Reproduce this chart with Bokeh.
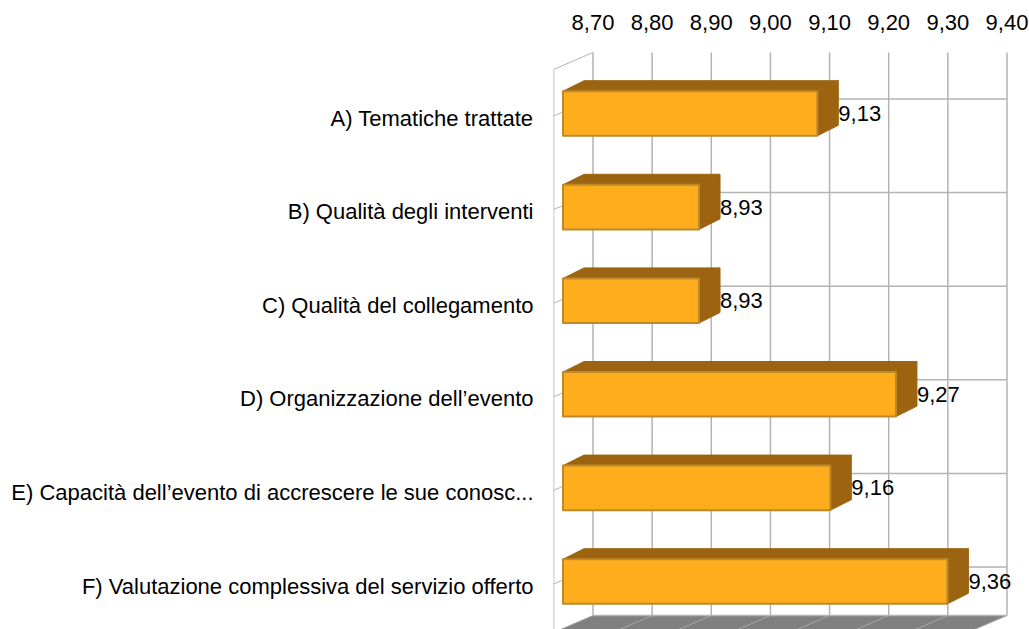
from bokeh.embed import file_html
from bokeh.resources import INLINE
from bokeh.plotting import figure
from bokeh.models import Range1d, FixedTicker, LinearAxis
from bokeh.core.properties import value

categories = ["A) Tematiche trattate", "B) Qualità degli interventi", "C) Qualità del collegamento",
              "D) Organizzazione dell’evento", "E) Capacità dell’evento di accrescere le sue conosc...",
              "F) Valutazione complessiva del servizio offerto"]
value_labels = ["9,13", "8,93", "8,93", "9,27", "9,16", "9,36"]
bar_values = [9.13, 8.93, 8.93, 9.263, 9.152, 9.35]
ticks = [8.7, 8.8, 8.9, 9.0, 9.1, 9.2, 9.3, 9.4]
tick_labels = ["8,70", "8,80", "8,90", "9,00", "9,10", "9,20", "9,30", "9,40"]

W, H = 1029, 629
ox, oy = 0, 0
left_px, top_px = 553, 40     # frame corner
xs = 591.4                    # px per value unit
ys = 93.6                     # px per category
x0 = 8.7 - (592.5 - left_px) / xs
x1 = 8.7 + (ox + W - 592.5) / xs
y0 = (top_px - 113) / ys
y1 = (oy + H - 113) / ys
dx = lambda px: px / xs
dy = lambda px: px / ys

p = figure(width=W, height=H, output_backend="svg", toolbar_location=None,
           x_range=Range1d(x0, x1), y_range=Range1d(y1, y0),
           x_axis_location=None, y_axis_location=None,
           min_border_left=left_px - ox, min_border_top=top_px - oy,
           min_border_right=0, min_border_bottom=0, outline_line_color=None,
           background_fill_color="white", border_fill_color="white")
p.grid.visible = False

FONT = "Liberation Sans"
SIZE = "22px"

top_axis = LinearAxis(ticker=FixedTicker(ticks=ticks),
                      major_label_overrides=dict(zip(ticks, tick_labels)))
top_axis.axis_line_color = None
top_axis.major_tick_line_color = None
top_axis.minor_tick_line_color = None
top_axis.major_label_standoff = 5
top_axis.major_label_text_font = FONT
top_axis.major_label_text_font_size = SIZE
top_axis.major_label_text_color = "#000000"
p.add_layout(top_axis, "above")

cat_ticks = [i + 0.05 for i in range(len(categories))]
left_axis = LinearAxis(ticker=FixedTicker(ticks=cat_ticks),
                       major_label_overrides=dict(zip(cat_ticks, categories)))
left_axis.axis_line_color = None
left_axis.major_tick_line_color = None
left_axis.minor_tick_line_color = None
left_axis.major_label_standoff = 14
left_axis.major_label_text_font = FONT
left_axis.major_label_text_font_size = SIZE
left_axis.major_label_text_color = "#000000"
p.add_layout(left_axis, "left")

GRID = "#b3b3b3"
n = len(categories)
back_top = (52 - 113) / ys
back_bottom = (615 - 113) / ys
wall_dx, wall_dy = dx(39.5), dy(17)

# floor
p.patch([ticks[0], ticks[-1], ticks[-1] - wall_dx, ticks[0] - wall_dx],
        [back_bottom, back_bottom, back_bottom + wall_dy, back_bottom + wall_dy],
        fill_color="#808080", line_color=None)
p.segment(ticks, [back_bottom] * len(ticks), [t - wall_dx for t in ticks],
          [back_bottom + wall_dy] * len(ticks), line_color="#a6a6a6", line_width=1)
p.segment([ticks[0]], [back_bottom], [ticks[-1]], [back_bottom], line_color=GRID, line_width=1.5)

# back wall vertical grid
p.segment(ticks, [back_top] * len(ticks), ticks, [back_bottom] * len(ticks), line_color=GRID, line_width=1.5)
# back wall horizontal grid and left wall diagonals
back_ys = [i - dy(14.5) for i in range(n)]
p.segment([ticks[0]] * n, back_ys, [ticks[-1]] * n, back_ys, line_color=GRID, line_width=1.5)
p.segment([ticks[0] - wall_dx] * n, [b + wall_dy for b in back_ys], [ticks[0]] * n, back_ys,
          line_color=GRID, line_width=1)
# left wall frame
p.segment([ticks[0] - wall_dx], [back_top + wall_dy], [ticks[0]], [back_top], line_color=GRID, line_width=1)
p.segment([ticks[0] - wall_dx], [back_top + wall_dy], [ticks[0] - wall_dx], [back_bottom + wall_dy],
          line_color=GRID, line_width=1.5)

# bars
plane = dx(30)
half = dy(22.3)
bar_dx, bar_dy = dx(21), dy(10.5)
left_front = ticks[0] - plane
for i, v in enumerate(bar_values):
    r = v - plane
    t, b = i - half, i + half
    p.patch([left_front, r, r + bar_dx, left_front + bar_dx],
            [t, t, t - bar_dy, t - bar_dy], fill_color="#9c6410", line_color="#9c6410",
            line_width=1, line_join="round")
    p.patch([r, r + bar_dx, r + bar_dx, r], [t, t - bar_dy, b - bar_dy, b],
            fill_color="#9c6410", line_color="#9c6410", line_width=1, line_join="round")
    p.quad(left=left_front, right=r, top=t, bottom=b, fill_color="#ffad1c",
           line_color="#bd8a2a", line_width=2, line_join="round")

p.text([v - plane + bar_dx for v in bar_values], list(range(n)), text=value_labels,
       text_font=value(FONT), text_font_size=SIZE, text_color="#000000",
       text_align="left", text_baseline="middle")

open("out.html", "w").write(file_html(p, INLINE))
